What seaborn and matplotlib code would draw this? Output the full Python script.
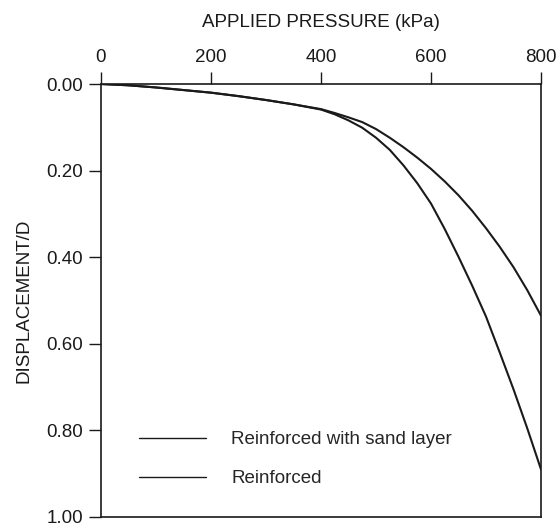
import pandas as pd
import seaborn as sns
import matplotlib.pyplot as plt

sns.set_style('ticks')
plt.rcParams['font.family'] = ['Liberation Sans', 'DejaVu Sans']

pressure = [0, 50, 100, 150, 200, 250, 300, 350, 400, 425, 450, 475, 500,
            525, 550, 575, 600, 625, 650, 675, 700, 725, 750, 775, 800]
sand_layer = [0.0, 0.003, 0.008, 0.014, 0.020, 0.028, 0.037, 0.047, 0.058,
              0.067, 0.077, 0.088, 0.104, 0.124, 0.146, 0.170, 0.196, 0.225,
              0.257, 0.293, 0.333, 0.376, 0.423, 0.476, 0.535]
reinforced = [0.0, 0.003, 0.008, 0.014, 0.020, 0.028, 0.037, 0.047, 0.059,
              0.070, 0.084, 0.101, 0.124, 0.152, 0.188, 0.229, 0.276, 0.335,
              0.399, 0.466, 0.537, 0.620, 0.705, 0.795, 0.890]
series_names = ['Reinforced with sand layer', 'Reinforced']

df = pd.concat([
    pd.DataFrame({'pressure': pressure, 'disp': sand_layer, 'case': series_names[0]}),
    pd.DataFrame({'pressure': pressure, 'disp': reinforced, 'case': series_names[1]}),
])

fig = plt.figure(figsize=(5.58, 5.27), dpi=100)
ax = fig.add_axes([0.181, 0.019, 0.7885, 0.8216])

sns.lineplot(data=df, x='pressure', y='disp', hue='case', hue_order=series_names,
             palette=['#1a1a1a', '#1a1a1a'], linewidth=1.5, ax=ax, sort=False)

ax.set_xlim(0, 800)
ax.set_ylim(1.0, 0.0)
ax.set_xticks([0, 200, 400, 600, 800])
ax.set_yticks([0.0, 0.2, 0.4, 0.6, 0.8, 1.0])
ax.set_yticklabels([f'{v:.2f}' for v in [0.0, 0.2, 0.4, 0.6, 0.8, 1.0]])
ax.xaxis.tick_top()
ax.xaxis.set_label_position('top')
ax.tick_params(axis='both', direction='out', length=9, width=1, colors='#1a1a1a',
               labelsize=13.5, pad=4)
for s in ax.spines.values():
    s.set_visible(True)
    s.set_color('#1a1a1a')
    s.set_linewidth(1.2)

ax.set_xlabel('APPLIED PRESSURE (kPa)', fontsize=13.5, labelpad=16, color='#1a1a1a')
ax.set_ylabel('DISPLACEMENT/D', fontsize=13.5, labelpad=10, color='#1a1a1a')

ax.legend(loc='lower left', bbox_to_anchor=(0.049, 0.03), frameon=False,
          fontsize=13.5, handlelength=3.55, handletextpad=1.35, labelspacing=1.15)
for line in ax.get_legend().get_lines():
    line.set_linewidth(1.0)

fig.savefig('out.png', dpi=100)
